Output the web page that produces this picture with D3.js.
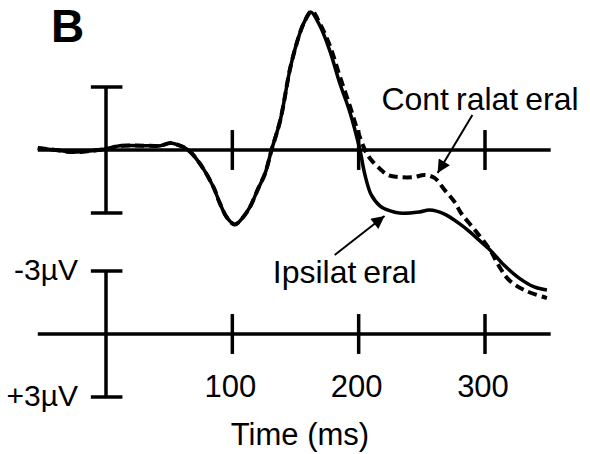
<!DOCTYPE html>
<html>
<head>
<meta charset="utf-8">
<script src="https://cdn.jsdelivr.net/npm/d3@7"></script>
<style>
  body { margin: 0; background: #fff; }
  text { font-family: "Liberation Sans", Arial, sans-serif; fill: #000; }
</style>
</head>
<body>
<div id="chart"></div>
<script>
// time points (ms) and amplitudes (µV, negative plotted up)
const ipsiTime = [-54, -40, -26, -13, 0, 11, 35, 43, 51, 57, 65, 74, 85, 90, 96, 102, 108, 114, 120, 126, 131, 138, 146, 153, 157, 162, 169, 177, 185, 193, 201, 205, 210, 217, 225, 232, 248, 256, 268, 280, 288, 296, 304, 315, 327, 339, 349]
const ipsiVals = [-0.1, 0, 0.1, 0.05, -0.05, -0.2, -0.2, -0.2, -0.33, -0.24, 0, 0.62, 1.76, 2.52, 3.24, 3.55, 3.24, 2.71, 1.9, 1.1, 0, -1.43, -3.95, -5.48, -6.1, -6.57, -5.95, -4.76, -3.19, -1.81, 0, 1.19, 2.14, 2.67, 2.9, 3.0, 2.95, 2.86, 3.05, 3.52, 3.9, 4.33, 4.76, 5.48, 6.1, 6.52, 6.67]

const contraTime = [-54, -40, -26, -13, 0, 11, 35, 43, 51, 57, 65, 74, 85, 90, 96, 102, 108, 114, 120, 126, 131, 138, 146, 153, 157, 163, 169, 177, 185, 193, 199, 205, 210, 217, 223, 232, 244, 252, 260, 268, 276, 281, 292, 304, 312, 319, 331, 349]
const contraVals = [-0.1, 0, 0.1, 0.05, -0.05, -0.2, -0.2, -0.2, -0.33, -0.24, 0, 0.62, 1.76, 2.52, 3.24, 3.55, 3.24, 2.71, 1.9, 1.1, 0, -1.43, -3.95, -5.48, -6.1, -6.62, -6.05, -5.0, -3.52, -2.1, -0.95, 0, 0.48, 0.9, 1.19, 1.29, 1.29, 1.19, 1.33, 1.9, 2.48, 3.0, 3.81, 4.76, 5.62, 6.19, 6.67, 7.05]

const timeTicks = [100, 200, 300]
const ampLabels = ["-3µV", "+3µV"]

const width = 590, height = 454

const svg = d3.select("#chart")
  .append("svg")
    .attr("width", width)
    .attr("height", height)

const x = d3.scaleLinear().domain([0, 300]).range([106, 485])
const y = d3.scaleLinear().domain([-3, 3]).range([87, 213])

const line = d3.line()
  .x(d => x(d[0]))
  .y(d => y(d[1]))
  .curve(d3.curveCatmullRom)

// panel letter
svg.append("text")
  .attr("x", 51)
  .attr("y", 42)
  .style("font-size", "46px")
  .style("font-weight", "bold")
  .text("B")

// draws a time axis with the amplitude bar at 0 ms
function drawAxis(g) {
  g.append("line")
    .attr("x1", x(-54)).attr("x2", x(352))
    .attr("y1", y(0)).attr("y2", y(0))
    .attr("stroke", "#000").attr("stroke-width", 3.5)

  g.selectAll(".tick")
    .data(timeTicks)
    .join("line")
      .attr("x1", d => x(d)).attr("x2", d => x(d))
      .attr("y1", y(-0.95)).attr("y2", y(0.95))
      .attr("stroke", "#000").attr("stroke-width", 3.5)

  g.append("line")
    .attr("x1", x(0)).attr("x2", x(0))
    .attr("y1", y(-3)).attr("y2", y(3))
    .attr("stroke", "#000").attr("stroke-width", 3.5)

  g.selectAll(".cap")
    .data([-3, 3])
    .join("line")
      .attr("x1", x(-12)).attr("x2", x(13))
      .attr("y1", d => y(d)).attr("y2", d => y(d))
      .attr("stroke", "#000").attr("stroke-width", 3.5)
}

const upper = svg.append("g")
drawAxis(upper)

// calibration axis below
const lower = svg.append("g").attr("transform", "translate(0,184)")
drawAxis(lower)

lower.selectAll(".amp")
  .data(ampLabels)
  .join("text")
    .attr("x", 78)
    .attr("y", (d, i) => y(i ? 3 : -3) + 9)
    .attr("text-anchor", "end")
    .style("font-size", "30px")
    .text(d => d)

lower.selectAll(".tlabel")
  .data(timeTicks)
  .join("text")
    .attr("x", d => x(d) - 2)
    .attr("y", y(0) + 63)
    .attr("text-anchor", "middle")
    .style("font-size", "31px")
    .text(d => d)

svg.append("text")
  .attr("x", 300)
  .attr("y", 445)
  .attr("text-anchor", "middle")
  .style("font-size", "31px")
  .text("Time (ms)")

// waveforms
svg.append("path")
  .datum(d3.zip(ipsiTime, ipsiVals))
  .attr("d", line)
  .attr("fill", "none")
  .attr("stroke", "#000")
  .attr("stroke-width", 3.5)

svg.append("path")
  .datum(d3.zip(contraTime, contraVals))
  .attr("d", line)
  .attr("fill", "none")
  .attr("stroke", "#000")
  .attr("stroke-width", 4)
  .attr("stroke-dasharray", "9,5")

// arrow annotations
svg.append("defs").append("marker")
  .attr("id", "head")
  .attr("viewBox", "0 0 10 10")
  .attr("refX", 10).attr("refY", 5)
  .attr("markerWidth", 16).attr("markerHeight", 13)
  .attr("markerUnits", "userSpaceOnUse")
  .attr("orient", "auto")
  .append("path")
    .attr("d", "M0,0L10,5L0,10Z")
    .attr("fill", "#000")

const arrows = [
  { from: [290, -1.67], to: [262.5, 1.1] },
  { from: [181, 5.0], to: [220.5, 3.14] }
]
svg.selectAll(".arrow")
  .data(arrows)
  .join("line")
    .attr("x1", d => x(d.from[0])).attr("y1", d => y(d.from[1]))
    .attr("x2", d => x(d.to[0])).attr("y2", d => y(d.to[1]))
    .attr("stroke", "#000").attr("stroke-width", 2)
    .attr("marker-end", "url(#head)")

function gappedLabel(parts, t, v) {
  const txt = svg.append("text")
    .attr("x", x(t))
    .attr("y", y(v))
    .style("font-size", "32px")
  parts.forEach((p, i) => {
    txt.append("tspan").attr("dx", i ? 7 : 0).text(p)
  })
}
gappedLabel(["Cont", "ralat", "eral"], 218, -1.9)
gappedLabel(["Ipsilat", "eral"], 132, 6.33)
</script>
</body>
</html>
